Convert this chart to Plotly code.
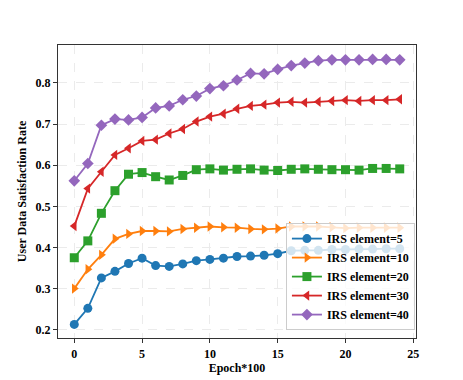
"""User data satisfaction rate vs epoch for several IRS element counts."""

import plotly.graph_objects as go

epochs = list(range(25))

irs_5 = [0.213, 0.252, 0.326, 0.342, 0.361, 0.374, 0.356, 0.354, 0.360, 0.368, 0.371, 0.374,
         0.378, 0.379, 0.381, 0.385, 0.392, 0.393, 0.393, 0.395, 0.395, 0.396, 0.396, 0.397, 0.397]
irs_10 = [0.300, 0.347, 0.382, 0.421, 0.433, 0.440, 0.440, 0.439, 0.445, 0.448, 0.451, 0.449,
          0.448, 0.445, 0.444, 0.446, 0.451, 0.451, 0.451, 0.449, 0.447, 0.448, 0.448, 0.448, 0.448]
irs_20 = [0.375, 0.416, 0.483, 0.538, 0.578, 0.582, 0.572, 0.564, 0.575, 0.589, 0.591, 0.588,
          0.590, 0.591, 0.588, 0.587, 0.590, 0.591, 0.590, 0.589, 0.589, 0.588, 0.592, 0.592, 0.591]
irs_30 = [0.452, 0.543, 0.584, 0.625, 0.641, 0.659, 0.662, 0.677, 0.688, 0.706, 0.718, 0.725,
          0.737, 0.744, 0.747, 0.752, 0.754, 0.752, 0.754, 0.756, 0.758, 0.756, 0.758, 0.758, 0.760]
irs_40 = [0.562, 0.604, 0.697, 0.712, 0.710, 0.716, 0.739, 0.744, 0.759, 0.768, 0.786, 0.793,
          0.807, 0.823, 0.822, 0.833, 0.842, 0.848, 0.854, 0.856, 0.856, 0.856, 0.857, 0.857, 0.856]

series = [
    ("IRS element=5", irs_5, "#1f77b4", "circle"),
    ("IRS element=10", irs_10, "#ff7f0e", "triangle-right"),
    ("IRS element=20", irs_20, "#2ca02c", "square"),
    ("IRS element=30", irs_30, "#d62728", "triangle-left"),
    ("IRS element=40", irs_40, "#9467bd", "diamond"),
]

FONT = "Liberation Serif, Times New Roman, serif"

fig = go.Figure()
for name, vals, color, symbol in series:
    fig.add_trace(go.Scatter(
        x=epochs, y=vals, name=name, mode="lines+markers",
        line=dict(color=color, width=1.8),
        marker=dict(symbol=symbol, size=9, color=color),
    ))

axis_common = dict(
    showline=True, linecolor="#333", linewidth=1.2, mirror=True,
    ticks="outside", ticklen=4, tickcolor="#333",
    showgrid=True, gridcolor="#ebebeb", griddash="dash", gridwidth=1,
    zeroline=False, automargin=False,
    tickfont=dict(family=FONT, size=12, color="black", weight="bold"),
)

fig.update_xaxes(
    range=[-1.2, 25.2], tickvals=[0, 5, 10, 15, 20, 25],
    title=dict(text="<b>Epoch*100</b>", font=dict(family=FONT, size=12, color="black"), standoff=4),
    **axis_common,
)
fig.update_yaxes(
    range=[0.18, 0.892], tickvals=[0.2, 0.3, 0.4, 0.5, 0.6, 0.7, 0.8],
    title=dict(text="<b>User Data Satisfaction Rate</b>", font=dict(family=FONT, size=12, color="black"), standoff=6),
    **axis_common,
)

# page body has an 8px margin, so the figure is sized/offset to land the axes where the reference has them
fig.update_layout(
    width=455, height=372,
    margin=dict(l=50, r=47, t=37, b=42),
    paper_bgcolor="white", plot_bgcolor="white",
    font=dict(family=FONT, color="black"),
    legend=dict(
        x=0.997, y=0.027, xanchor="right", yanchor="bottom",
        bgcolor="rgba(255,255,255,0.8)", bordercolor="#cccccc", borderwidth=1,
        font=dict(family=FONT, size=12, color="black", weight="bold"),
        tracegroupgap=0, itemwidth=30,
    ),
)

fig.write_html("out.html")
